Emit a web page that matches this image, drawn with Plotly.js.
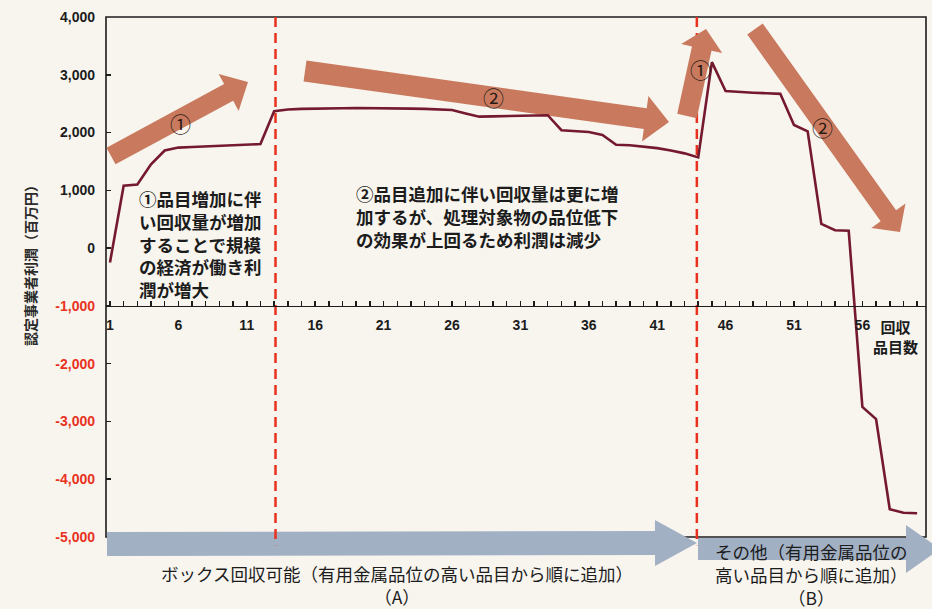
<!DOCTYPE html>
<html>
<head>
<meta charset="utf-8">
<script src="https://cdn.plot.ly/plotly-3.0.1.min.js"></script>
<style>
  html, body { margin: 0; padding: 0; background: #f8f5ef; }
  #chart { width: 932px; height: 609px; }
</style>
</head>
<body>
<div id="chart"></div>
<script>
// ---------------- data ----------------
const items = [1,2,3,4,5,6,7,8,9,10,11,12,13,14,15,16,17,18,19,20,
               21,22,23,24,25,26,27,28,29,30,31,32,33,34,35,36,37,38,39,40,
               41,42,43,44,45,46,47,48,49,50,51,52,53,54,55,56,57,58,59,60];
const profit = [-250,1080,1100,1450,1690,1740,1750,1760,1770,1780,
                1790,1800,2370,2400,2410,2410,2415,2420,2425,2425,
                2425,2420,2415,2410,2400,2390,2330,2275,2280,2285,
                2285,2290,2300,2040,2030,2010,1960,1790,1780,1760,
                1730,1690,1640,1570,3220,2720,2700,2690,2680,2670,
                2130,2020,420,310,300,-2750,-2960,-4520,-4580,-4590];
const yTickVals = [4000,3000,2000,1000,0,-1000,-2000,-3000,-4000,-5000];
const yTickLabels = ['4,000','3,000','2,000','1,000','0','-1,000','-2,000','-3,000','-4,000','-5,000'];
const xTickVals = [1,6,11,16,21,26,31,36,41,46,51,56];
const groupBoundaries = [13.1, 43.9];

const yTitle = '認定事業者利潤（百万円）';
const xTitleLines = ['回収', '品目数'];
const note1Lines = ['①品目増加に伴', 'い回収量が増加', 'することで規模', 'の経済が働き利', '潤が増大'];
const note2Lines = ['②品目追加に伴い回収量は更に増', '加するが、処理対象物の品位低下', 'の効果が上回るため利潤は減少'];
const groupALines = ['ボックス回収可能（有用金属品位の高い品目から順に追加）', '（A）'];
const groupBLines = ['その他（有用金属品位の', '高い品目から順に追加）', '（B）'];

// ---------------- geometry helpers (pixel -> paper) ----------------
const W = 932, H = 609;
const L = 106, R = 926, T = 17, B = 537;
const PW = R - L, PH = B - T;
const px = x => (x - L) / PW;
const py = y => (B - y) / PH;

function arrowPath(x0, y0, x1, y1, sw, hw, hl) {
  const dx = x1 - x0, dy = y1 - y0, len = Math.hypot(dx, dy);
  const ux = dx / len, uy = dy / len, nx = -uy, ny = ux;
  const bx = x1 - ux * hl, by = y1 - uy * hl;
  const pts = [
    [x0 + nx * sw / 2, y0 + ny * sw / 2],
    [bx + nx * sw / 2, by + ny * sw / 2],
    [bx + nx * hw / 2, by + ny * hw / 2],
    [x1, y1],
    [bx - nx * hw / 2, by - ny * hw / 2],
    [bx - nx * sw / 2, by - ny * sw / 2],
    [x0 - nx * sw / 2, y0 - ny * sw / 2]
  ];
  return 'M' + pts.map(p => px(p[0]).toFixed(5) + ',' + py(p[1]).toFixed(5)).join(' L') + ' Z';
}

const brown = '#c97a5e';
const blue = '#a2b0c4';
const red = '#e8321e';
const ink = '#1c1c1c';

const shapes = [];
// plot frame
shapes.push({type: 'rect', xref: 'paper', yref: 'paper', x0: 0, x1: 1, y0: 0, y1: 1,
             line: {color: ink, width: 1.6}, fillcolor: 'rgba(0,0,0,0)', layer: 'below'});
// blue group arrows
shapes.push({type: 'path', xref: 'paper', yref: 'paper', layer: 'below', line: {width: 0},
             fillcolor: blue, path: arrowPath(107, 544, 697, 543, 24, 46, 42)});
shapes.push({type: 'path', xref: 'paper', yref: 'paper', layer: 'below', line: {width: 0},
             fillcolor: blue, path: arrowPath(698, 549, 940, 549, 22, 48, 34)});
// group boundaries
groupBoundaries.forEach(b => shapes.push({type: 'line', xref: 'x', yref: 'paper', x0: b, x1: b,
             y0: 1, y1: -0.016, layer: 'below', line: {color: red, width: 2.5, dash: '10px,6px'}}));
// brown trend arrows
shapes.push({type: 'path', xref: 'paper', yref: 'paper', layer: 'below', line: {width: 0},
             fillcolor: brown, path: arrowPath(111, 156, 248, 82, 19, 42, 22)});
shapes.push({type: 'path', xref: 'paper', yref: 'paper', layer: 'below', line: {width: 0},
             fillcolor: brown, path: arrowPath(305, 71, 669, 122, 21, 46, 24)});
shapes.push({type: 'path', xref: 'paper', yref: 'paper', layer: 'below', line: {width: 0},
             fillcolor: brown, path: arrowPath(687, 116, 706, 29, 20, 42, 20)});
shapes.push({type: 'path', xref: 'paper', yref: 'paper', layer: 'below', line: {width: 0},
             fillcolor: brown, path: arrowPath(755, 29, 900, 232, 19, 42, 20)});

const jp = 'Noto Sans CJK JP, sans-serif';
const annotations = [];
function addText(text, x, y, opts) {
  annotations.push(Object.assign({
    text: text, xref: 'paper', yref: 'paper', x: px(x), y: py(y),
    showarrow: false, xanchor: 'left', yanchor: 'middle', align: 'left',
    font: {family: jp, size: 17.5, color: ink, weight: 'bold'}
  }, opts || {}));
}
// y-axis title
addText(yTitle, 30, 262, {xanchor: 'center', textangle: -90,
        font: {family: jp, size: 14, color: '#2b2b2b', weight: 'bold'}});
// x-axis title
addText(xTitleLines.join('<br>'), 895, 336, {xanchor: 'center', align: 'center',
        font: {family: jp, size: 15, color: ink, weight: 'bold'}});
// notes
addText(note1Lines.join('<br>'), 137, 243.5);
addText(note2Lines.join('<br>'), 354, 217);
// circled markers on arrows
[['①', 180, 123], ['②', 493, 97], ['①', 700, 69], ['②', 822, 127]].forEach(m =>
  addText(m[0], m[1], m[2], {xanchor: 'center', font: {family: jp, size: 21, color: '#2a1a15'}}));
// group labels
addText(groupALines.join('<br>'), 397, 585, {xanchor: 'center', align: 'center',
        font: {family: jp, size: 17.5, color: ink}});
addText(groupBLines.join('<br>'), 811, 574.5, {xanchor: 'center', align: 'center',
        font: {family: jp, size: 17.5, color: ink}});

const yTickText = yTickLabels.map((t, i) =>
  yTickVals[i] < 0 ? '<span style="color:' + red + '">' + t + '</span>' : t);

const trace = {
  x: items, y: profit, type: 'scatter', mode: 'lines',
  line: {color: '#74192e', width: 2.6}, hoverinfo: 'skip'
};

const layout = {
  width: W, height: H,
  margin: {l: L, r: W - R, t: T, b: H - B, pad: 0},
  paper_bgcolor: '#f8f5ef', plot_bgcolor: 'rgba(0,0,0,0)',
  showlegend: false,
  xaxis: {
    range: [0.71, 60.65], anchor: 'free', position: 4000 / 9000,
    showline: true, linecolor: ink, linewidth: 1.6,
    ticks: 'inside', ticklen: 5, tickwidth: 1.5, tickcolor: ink,
    tickmode: 'array', tickvals: xTickVals,
    minor: {ticks: 'inside', tick0: 1, dtick: 1, ticklen: 5, tickwidth: 1.5, tickcolor: ink},
    tickfont: {family: 'Liberation Sans, Arial, sans-serif', size: 14, color: ink, weight: 'bold'},
    ticklabelstandoff: 6,
    showgrid: false, zeroline: false, fixedrange: true
  },
  yaxis: {
    range: [-5000, 4000], tickmode: 'array', tickvals: yTickVals, ticktext: yTickText,
    ticks: 'inside', ticklen: 5, tickwidth: 1.5, tickcolor: ink,
    showline: false, showgrid: false, zeroline: false, automargin: false,
    tickfont: {family: 'Liberation Sans, Arial, sans-serif', size: 14, color: ink, weight: 'bold'},
    ticklabelstandoff: 10, fixedrange: true
  },
  shapes: shapes,
  annotations: annotations
};

Plotly.newPlot('chart', [trace], layout, {displayModeBar: false, staticPlot: true});
</script>
</body>
</html>
